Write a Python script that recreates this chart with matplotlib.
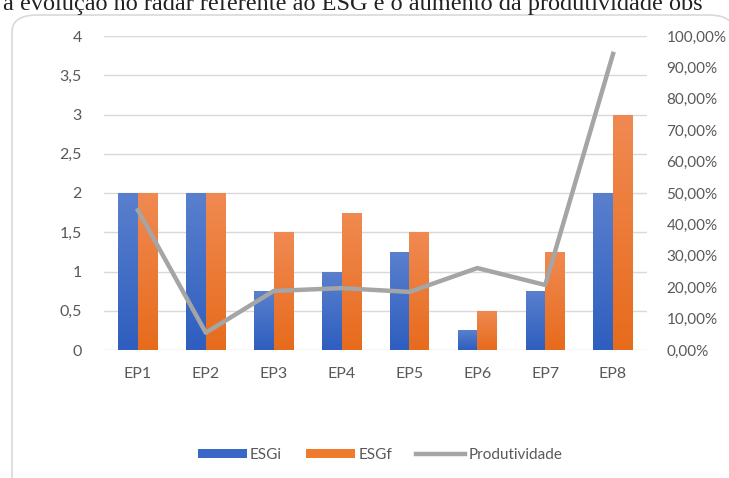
import numpy as np
import matplotlib.pyplot as plt
from matplotlib.patches import FancyBboxPatch
from matplotlib.colors import LinearSegmentedColormap
from matplotlib.ticker import FuncFormatter

plt.rcParams['font.family'] = ['Lato', 'DejaVu Sans']

categorias = ['EP1', 'EP2', 'EP3', 'EP4', 'EP5', 'EP6', 'EP7', 'EP8']
esg_i = [2, 2, 0.75, 1, 1.25, 0.25, 0.75, 2]
esg_f = [2, 2, 1.5, 1.75, 1.5, 0.5, 1.25, 3]
produtividade = [0.445, 0.055, 0.188, 0.197, 0.185, 0.261, 0.207, 0.943]

cinza_txt = '#595959'

fig = plt.figure(figsize=(7.29, 4.78), dpi=100)

# texto do documento (cortado em cima, como no original)
fig.text(0.004, 1 - 10 / 478, 'a evolução no radar referente ao ESG e o aumento da produtividade obs',
         family=['Liberation Serif', 'DejaVu Serif'], fontsize=17.5, color='#222222',
         ha='left', va='baseline')

# moldura do gráfico
moldura = FancyBboxPatch((12 / 729, -0.05), 0.99, 1 - 15 / 478 + 0.05,
                         boxstyle='round,pad=0,rounding_size=0.035',
                         transform=fig.transFigure, fc='white', ec='#d9d9d9', lw=1.2,
                         zorder=-5)
fig.patches.append(moldura)

ax = fig.add_axes([104 / 729, 1 - 350 / 478, 543 / 729, 314 / 478])
ax.patch.set_alpha(0)
x = np.arange(len(categorias))
w = 0.29
barras_i = ax.bar(x - w / 2, esg_i, w, color='#3a68c6', label='ESGi', zorder=3)
barras_f = ax.bar(x + w / 2, esg_f, w, color='#ef7b2d', label='ESGf', zorder=3)

# degradê nas barras (mais claro em cima)
grad = np.linspace(0, 1, 256).reshape(-1, 1)
cmap_i = LinearSegmentedColormap.from_list('gi', ['#2e5ebf', '#5a80cd'])
cmap_f = LinearSegmentedColormap.from_list('gf', ['#e76b1c', '#f08a52'])
for barras, cm in [(barras_i, cmap_i), (barras_f, cmap_f)]:
    for b in barras:
        x0, y0 = b.get_x(), b.get_y()
        im = ax.imshow(grad, cmap=cm, origin='lower', aspect='auto',
                       extent=[x0, x0 + b.get_width(), y0, y0 + b.get_height()], zorder=3.1)
        im.set_clip_path(b)

ax.set_xlim(-0.5, len(categorias) - 0.5)
ax.set_ylim(0, 4)
ax.set_yticks(np.arange(0, 4.01, 0.5))
ax.yaxis.set_major_formatter(FuncFormatter(lambda v, p: f'{v:g}'.replace('.', ',')))
ax.set_xticks(x)
ax.set_xticklabels(categorias)
ax.grid(axis='y', color='#d9d9d9', lw=1, zorder=0)
for s in ax.spines.values():
    s.set_visible(False)
ax.tick_params(axis='both', length=0, labelsize=11.5, colors=cinza_txt)
ax.tick_params(axis='y', pad=16)
ax.tick_params(axis='x', pad=12)

ax2 = ax.twinx()
ax2.plot(x, produtividade, color='#a5a5a5', lw=3.2, label='Produtividade', zorder=4)
ax2.set_ylim(0, 1)
ax2.set_yticks(np.arange(0, 1.01, 0.1))
ax2.yaxis.set_major_formatter(FuncFormatter(lambda v, p: f'{v * 100:.2f}%'.replace('.', ',')))
for s in ax2.spines.values():
    s.set_visible(False)
ax2.tick_params(axis='y', length=0, labelsize=11, colors=cinza_txt, pad=14)

h1, l1 = ax.get_legend_handles_labels()
h2, l2 = ax2.get_legend_handles_labels()
fig.legend(h1 + h2, l1 + l2, loc='center', bbox_to_anchor=(380 / 729, 1 - 455 / 478),
           ncol=3, frameon=False, fontsize=11, labelcolor=cinza_txt,
           handlelength=3.2, handleheight=0.6, handletextpad=0.2, columnspacing=1.6)

fig.savefig('out.png', dpi=100)
